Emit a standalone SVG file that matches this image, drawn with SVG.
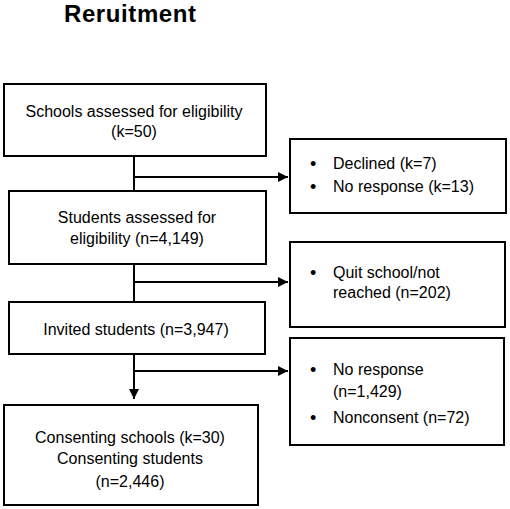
<svg xmlns="http://www.w3.org/2000/svg" width="510" height="509" viewBox="0 0 510 509">
<style>
.box{fill:#fff;stroke:#000;stroke-width:2}
.t{font-family:"Liberation Sans",Arial,sans-serif;font-size:16px;fill:#000}
.b{font-family:"Liberation Sans",Arial,sans-serif;font-size:18px;fill:#000}
.c{text-anchor:middle}
.ln{stroke:#000;stroke-width:2;fill:none}
</style>
<defs>
<marker id="ah" markerWidth="10" markerHeight="10" refX="10" refY="5" orient="auto" markerUnits="userSpaceOnUse">
<path d="M0,0 L10,5 L0,10 Z" fill="#000"/>
</marker>
</defs>
<rect width="510" height="509" fill="#fff"/>
<text x="64" y="22" font-family="Liberation Sans,Arial,sans-serif" font-weight="bold" font-size="24" textLength="132">Reruitment</text>
<g id="connectors">
<line class="ln" x1="134" y1="156" x2="134" y2="191"/>
<line class="ln" x1="134" y1="177" x2="288" y2="177" marker-end="url(#ah)"/>
<line class="ln" x1="134" y1="264" x2="134" y2="302"/>
<line class="ln" x1="134" y1="282" x2="288" y2="282" marker-end="url(#ah)"/>
<line class="ln" x1="134" y1="354" x2="134" y2="399" marker-end="url(#ah)"/>
<line class="ln" x1="134" y1="371" x2="288" y2="371" marker-end="url(#ah)"/>
</g>
<g id="schools">
<rect class="box" x="4" y="84" width="262" height="72"/>
<text class="t c" x="134" y="117">Schools assessed for eligibility</text>
<text class="t c" x="134" y="137">(k=50)</text>
</g>
<g id="excl1">
<rect class="box" x="290" y="139" width="216" height="74"/>
<text class="b" x="310" y="170">•</text><text class="t" x="333" y="169">Declined (k=7)</text>
<text class="b" x="310" y="193">•</text><text class="t" x="333" y="192">No response (k=13)</text>
</g>
<g id="students">
<rect class="box" x="9" y="191" width="257" height="73"/>
<text class="t c" x="137" y="223">Students assessed for</text>
<text class="t c" x="137" y="244">eligibility (n=4,149)</text>
</g>
<g id="excl2">
<rect class="box" x="290" y="242" width="215" height="85"/>
<text class="b" x="310" y="279">•</text><text class="t" x="333" y="278">Quit school/not</text>
<text class="t" x="333" y="298">reached (n=202)</text>
</g>
<g id="invited">
<rect class="box" x="9" y="302" width="256" height="52"/>
<text class="t c" x="136" y="335">Invited students (n=3,947)</text>
</g>
<g id="excl3">
<rect class="box" x="290" y="338" width="214" height="107"/>
<text class="b" x="310" y="376">•</text><text class="t" x="333" y="375">No response</text>
<text class="t" x="333" y="397">(n=1,429)</text>
<text class="b" x="310" y="424">•</text><text class="t" x="333" y="423">Nonconsent (n=72)</text>
</g>
<g id="consenting">
<rect class="box" x="4" y="405" width="254" height="100"/>
<text class="t c" x="130" y="443">Consenting schools (k=30)</text>
<text class="t c" x="130" y="464">Consenting students</text>
<text class="t c" x="130" y="487">(n=2,446)</text>
</g>
</svg>
